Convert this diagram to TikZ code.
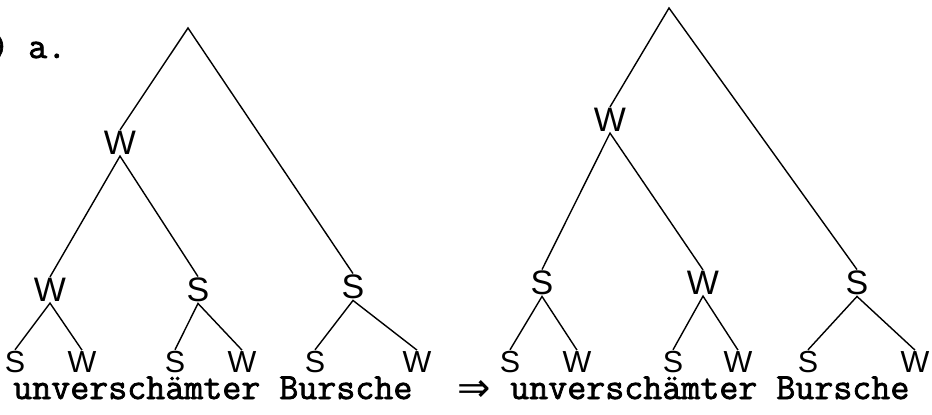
\documentclass[tikz,border=0pt]{standalone}
\usepackage{fontspec}
\setsansfont{Liberation Sans}
\newfontfamily\typefont{Latin Modern Mono}[FakeBold=2]
\newfontfamily\arrowfont{DejaVu Sans}
\usetikzlibrary{positioning}

\begin{document}
\begin{tikzpicture}[x=0.03cm, y=-0.03cm,
    lbl/.style={font=\sffamily\fontsize{29}{29}\selectfont, inner sep=1pt},
    leaf/.style={font=\sffamily\fontsize{26}{26}\selectfont, inner sep=1pt},
    words/.style={font=\typefont\fontsize{31.5}{31.5}\selectfont, inner sep=0pt, anchor=base west},
    edge/.style={line width=1.2pt, line join=miter}]

    \useasboundingbox (0,0) rectangle (932,414);

    \node[words] (ex) at (-10,58) {) a.};

    % --- linker Baum ---
    \coordinate (lroot) at (188,28);
    \node[lbl] (lw)  at (120,143) {W};
    \node[lbl] (lww) at (50,290)  {W};
    \node[lbl] (lws) at (198,290) {S};
    \node[lbl] (ls)  at (353,287) {S};

    \node[leaf] (l1) at (15,362)  {S};
    \node[leaf] (l2) at (82,362)  {W};
    \node[leaf] (l3) at (175,362) {S};
    \node[leaf] (l4) at (242,362) {W};
    \node[leaf] (l5) at (315,362) {S};
    \node[leaf] (l6) at (417,362) {W};

    \draw[edge] (lw.north) -- (lroot) -- (ls.north);
    \draw[edge] (lww.north) -- (lw.south) -- (lws.north);
    \draw[edge] (l1.north) -- (lww.south) -- (l2.north);
    \draw[edge] (l3.north) -- (lws.south) -- (l4.north);
    \draw[edge] (l5.north) -- (ls.south) -- (l6.north);

    \node[words] (lwords) at (13,399) {unverschämter Bursche};

    % --- Pfeil ---
    \node[font=\arrowfont\fontsize{34}{34}\selectfont, inner sep=0pt] (arr) at (474,391) {⇒};

    % --- rechter Baum ---
    \coordinate (rroot) at (669,8);
    \node[lbl] (rw)  at (610,120) {W};
    \node[lbl] (rws) at (542,283) {S};
    \node[lbl] (rww) at (703,283) {W};
    \node[lbl] (rs)  at (857,283) {S};

    \node[leaf] (r1) at (510,362) {S};
    \node[leaf] (r2) at (577,362) {W};
    \node[leaf] (r3) at (673,362) {S};
    \node[leaf] (r4) at (738,362) {W};
    \node[leaf] (r5) at (808,362) {S};
    \node[leaf] (r6) at (915,362) {W};

    \draw[edge] (rw.north) -- (rroot) -- (rs.north);
    \draw[edge] (rws.north) -- (rw.south) -- (rww.north);
    \draw[edge] (r1.north) -- (rws.south) -- (r2.north);
    \draw[edge] (r3.north) -- (rww.south) -- (r4.north);
    \draw[edge] (r5.north) -- (rs.south) -- (r6.north);

    \node[words] (rwords) at (510,399) {unverschämter Bursche};
\end{tikzpicture}
\end{document}
